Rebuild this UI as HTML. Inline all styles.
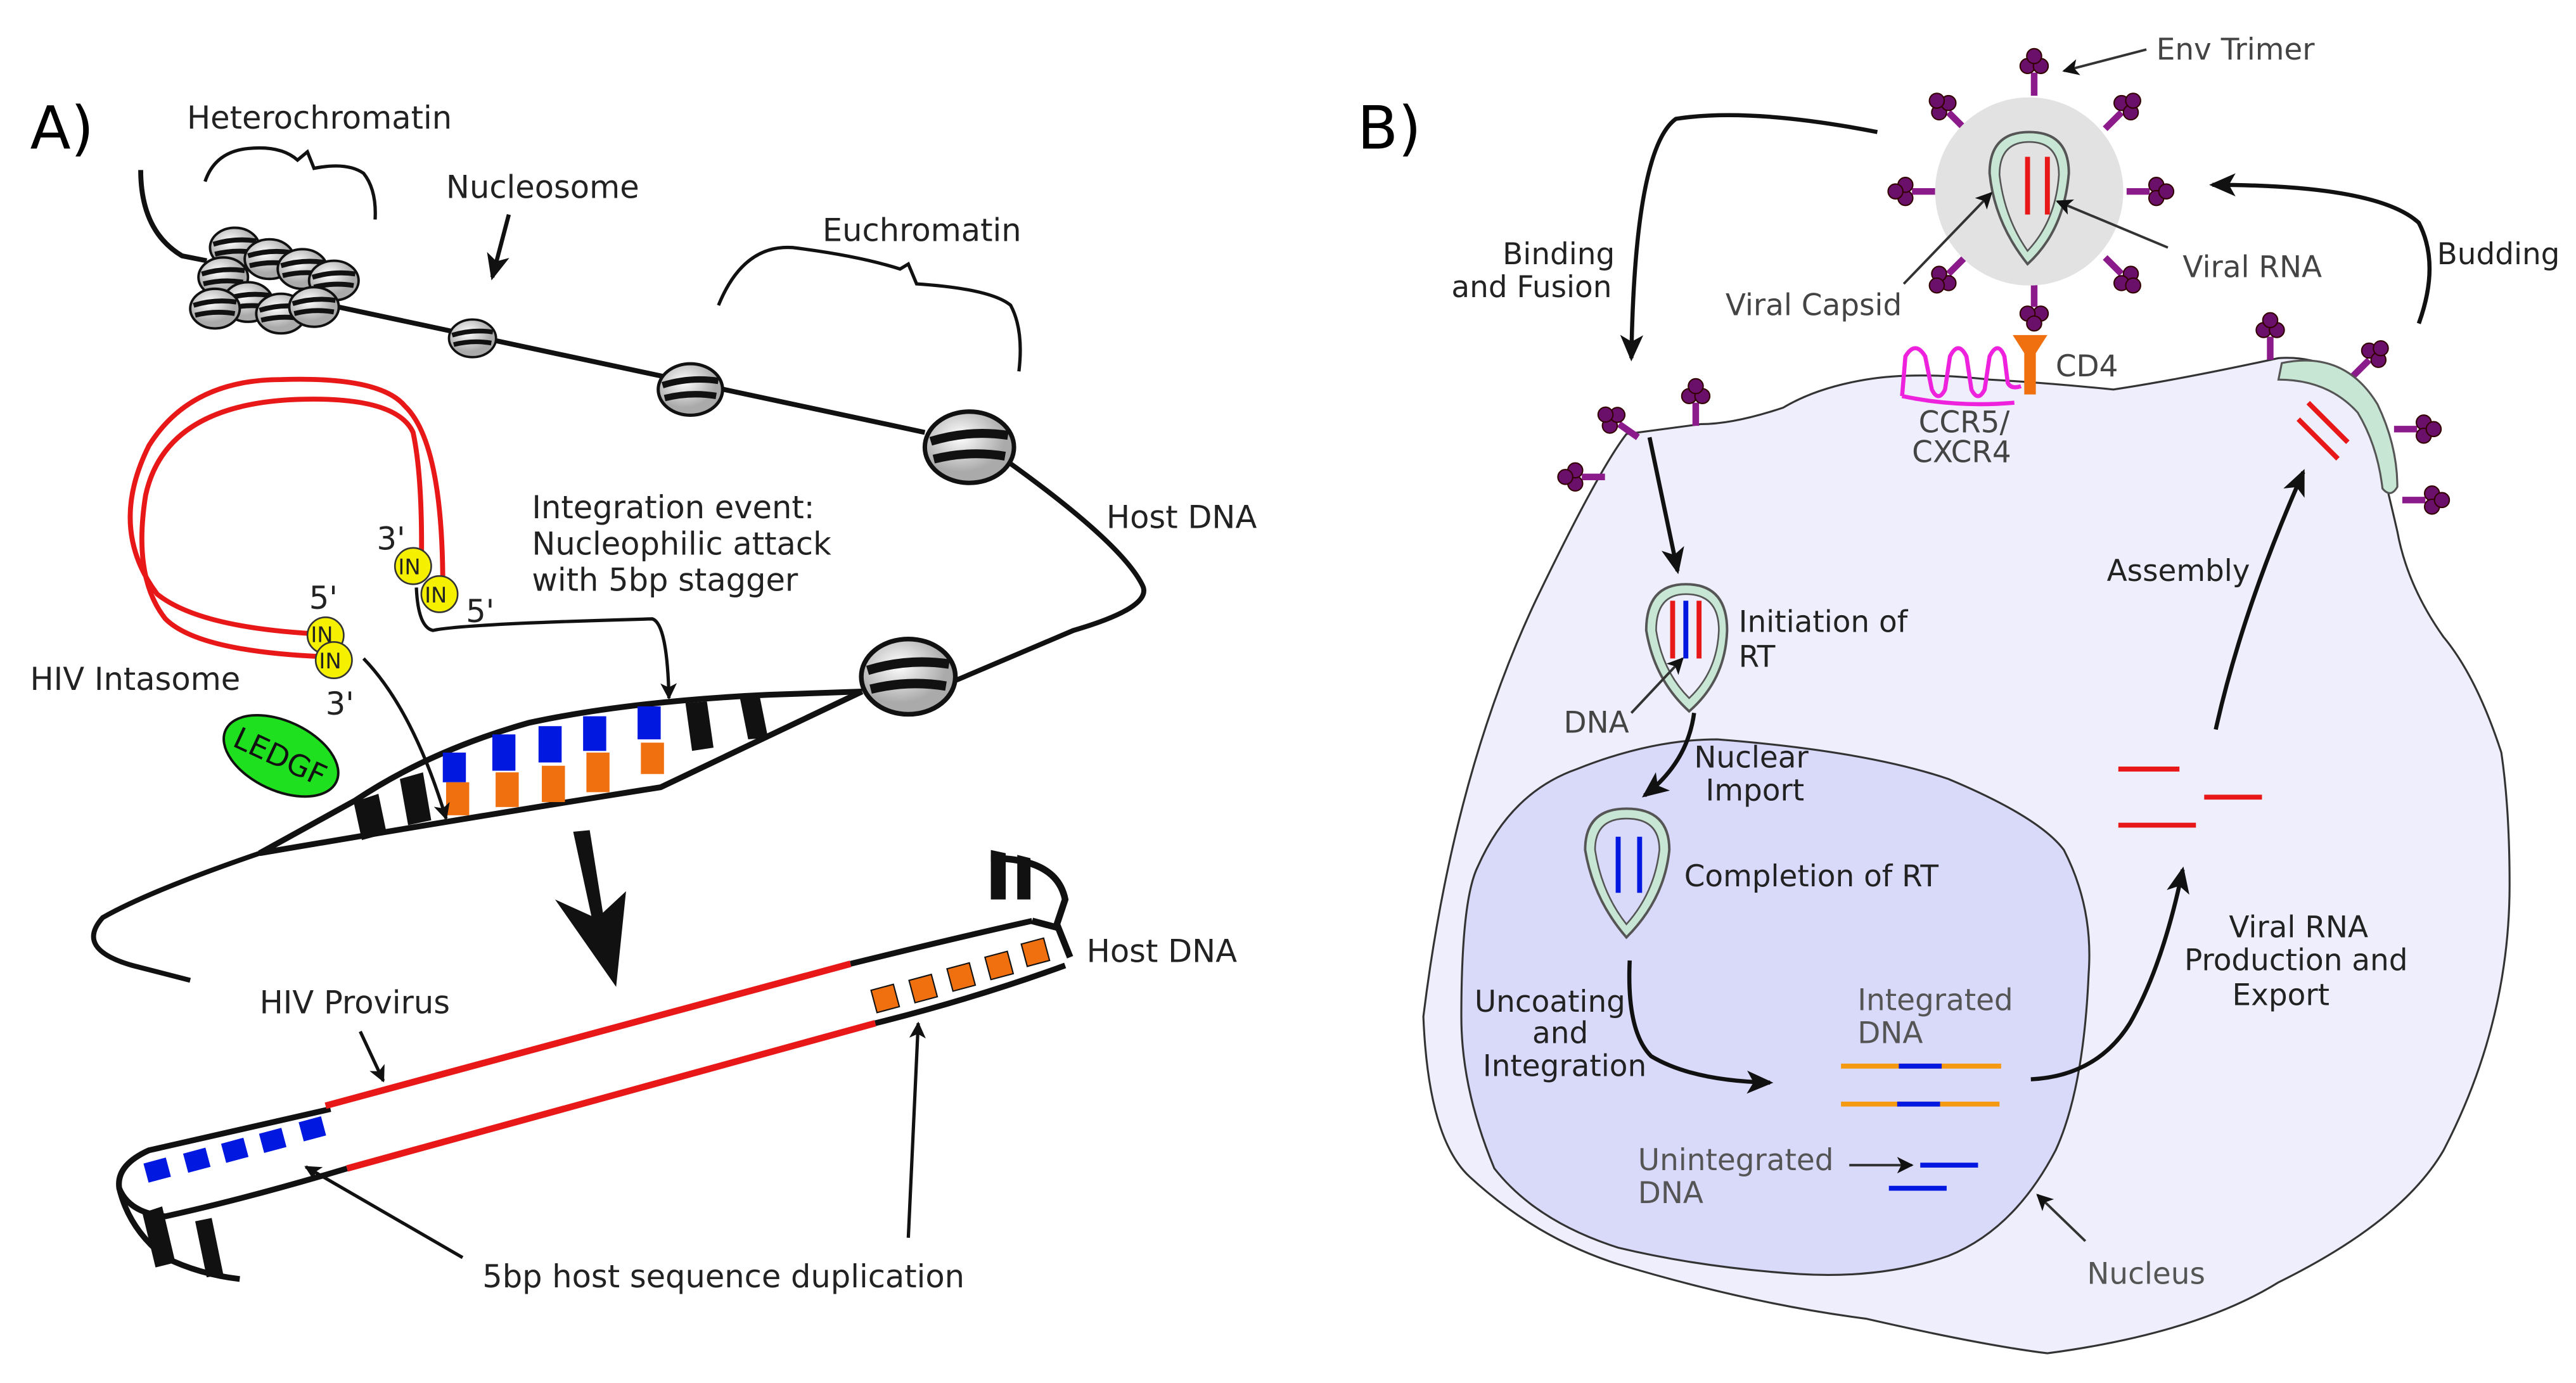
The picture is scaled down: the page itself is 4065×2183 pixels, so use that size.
<!DOCTYPE html>
<html><head><meta charset="utf-8"><style>html,body{margin:0;padding:0;background:#fff}svg{display:block}text{font-family:"DejaVu Sans","Liberation Sans",sans-serif;font-size:19px;fill:#222}</style></head>
<body>
<svg width="4065" height="2183" viewBox="0 0 1560 838" xmlns="http://www.w3.org/2000/svg">
<defs>
<marker id="ah" markerWidth="10" markerHeight="10" refX="9" refY="5" orient="auto" markerUnits="userSpaceOnUse"><path d="M0,0 L10,5 L0,10 L2.5,5z" fill="#111"/></marker>
<marker id="ahb" markerWidth="16" markerHeight="14" refX="14" refY="7" orient="auto" markerUnits="userSpaceOnUse"><path d="M0,0 L16,7 L0,14 L4,7z" fill="#111"/></marker>
<radialGradient id="nuc" cx="40%" cy="35%"><stop offset="0" stop-color="#fff"/><stop offset="1" stop-color="#aaa"/></radialGradient>
<g id="nucl"><ellipse rx="15" ry="12" fill="url(#nuc)" stroke="#111" stroke-width="1.5"/><path d="M-13,-2 Q0,-6 13,-4 M-12,4 Q0,1 12,3" stroke="#111" stroke-width="3" fill="none"/></g>
<g id="env"><line x1="0" y1="0" x2="0" y2="-14" stroke="#8b1a8b" stroke-width="4"/><circle cx="-4" cy="-18" r="4.5" fill="#6a0f6a" stroke="#300" stroke-width="0.8"/><circle cx="4" cy="-18" r="4.5" fill="#6a0f6a" stroke="#300" stroke-width="0.8"/><circle cx="0" cy="-24" r="4.5" fill="#6a0f6a" stroke="#300" stroke-width="0.8"/></g>
</defs>

<!-- PANEL A -->
<text x="18" y="90" style="font-size:36px;fill:#000">A)</text>
<text x="113" y="78">Heterochromatin</text>
<path d="M124,110 Q130,92 150,90 Q170,88 180,97 L186,92 L190,102 Q210,98 220,105 Q228,115 227,133" fill="none" stroke="#111" stroke-width="2"/>
<text x="270" y="120">Nucleosome</text>
<path d="M308,130 L298,168" stroke="#111" stroke-width="2.5" marker-end="url(#ahb)"/>
<text x="498" y="146">Euchromatin</text>
<path d="M435,185 Q450,148 480,150 Q520,155 545,163 L550,160 L555,172 Q600,175 612,185 Q620,200 617,225" fill="none" stroke="#111" stroke-width="2"/>
<text x="670" y="320">Host DNA</text>

<path d="M85,103 Q85,140 110,155 L125,158" fill="none" stroke="#111" stroke-width="3"/>
<path d="M200,185 L560,262 M612,281 Q680,330 692,355 Q698,368 650,382 L577,413" fill="none" stroke="#111" stroke-width="3"/>
<g transform="translate(142,150)"><use href="#nucl"/></g>
<g transform="translate(163,157)"><use href="#nucl"/></g>
<g transform="translate(183,163)"><use href="#nucl"/></g>
<g transform="translate(202,170)"><use href="#nucl"/></g>
<g transform="translate(135,168)"><use href="#nucl"/></g>
<g transform="translate(150,183)"><use href="#nucl"/></g>
<g transform="translate(170,190)"><use href="#nucl"/></g>
<g transform="translate(190,186)"><use href="#nucl"/></g>
<g transform="translate(130,187)"><use href="#nucl"/></g>
<g transform="translate(286,205) scale(0.95)"><use href="#nucl"/></g>
<g transform="translate(418,236) scale(1.3)"><use href="#nucl"/></g>
<g transform="translate(587,271) scale(1.8)"><use href="#nucl"/></g>
<g transform="translate(550,410) scale(1.9)"><use href="#nucl"/></g>

<!-- bubble -->
<path d="M522,419 L465,421 Q380,425 320,438 Q260,455 215,485 L157,517" fill="none" stroke="#111" stroke-width="3.5"/>
<path d="M157,517 Q280,496 400,477 L522,419" fill="none" stroke="#111" stroke-width="3.5"/>
<path d="M157,517 Q90,540 62,556 Q45,575 80,585 L115,594" fill="none" stroke="#111" stroke-width="3"/>
<g stroke="none">
<polygon points="214,486 229,481 234,505 219,509" fill="#111"/>
<polygon points="242,472 256,468 261,497 247,500" fill="#111"/>
<rect x="268" y="456" width="14" height="18" fill="#0018e0"/><rect x="270" y="474" width="14" height="20" fill="#f07010"/>
<rect x="298" y="445" width="14" height="22" fill="#0018e0"/><rect x="300" y="468" width="14" height="21" fill="#f07010"/>
<rect x="326" y="440" width="14" height="22" fill="#0018e0"/><rect x="328" y="464" width="14" height="22" fill="#f07010"/>
<rect x="353" y="434" width="14" height="21" fill="#0018e0"/><rect x="355" y="456" width="14" height="24" fill="#f07010"/>
<rect x="386" y="428" width="14" height="20" fill="#0018e0"/><rect x="388" y="450" width="14" height="19" fill="#f07010"/>
<polygon points="415,426 428,425 432,453 419,455" fill="#111"/>
<polygon points="448,423 460,422 465,447 453,448" fill="#111"/>
</g>
<path d="M347,504 L358,555 L336,545 L373,598 L379,540 L365,553 L357,503z" fill="#111"/>

<!-- intasome -->
<path d="M190,384 Q120,380 95,360 Q65,320 90,270 Q115,230 170,230 Q230,228 245,246 Q268,268 268,355" fill="none" stroke="#e81818" stroke-width="3"/>
<path d="M198,398 Q120,395 100,375 Q80,350 88,300 Q100,245 180,242 Q240,240 250,262 Q256,290 255,345" fill="none" stroke="#e81818" stroke-width="3"/>
<circle cx="197" cy="385" r="11" fill="#f5f000" stroke="#333"/><circle cx="202" cy="400" r="11" fill="#f5f000" stroke="#333"/>
<circle cx="250" cy="343" r="11" fill="#f5f000" stroke="#333"/><circle cx="266" cy="360" r="11" fill="#f5f000" stroke="#333"/>
<text x="188" y="389" style="font-size:13px">IN</text><text x="193" y="405" style="font-size:13px">IN</text>
<text x="241" y="348" style="font-size:13px">IN</text><text x="257" y="365" style="font-size:13px">IN</text>
<text x="228" y="333">3'</text><text x="187" y="369">5'</text><text x="282" y="377">5'</text><text x="197" y="433">3'</text>
<text x="18" y="418">HIV Intasome</text>
<ellipse cx="170" cy="458" rx="37" ry="21" transform="rotate(25 170 458)" fill="#1fe01f" stroke="#111" stroke-width="1.5"/>
<text x="140" y="465" transform="rotate(25 170 458)" style="font-size:18px;fill:#111">LEDGF</text>
<text x="322" y="314">Integration event:</text>
<text x="322" y="336">Nucleophilic attack</text>
<text x="322" y="358">with 5bp stagger</text>
<path d="M252,356 Q253,380 262,382 Q280,378 395,375 Q404,378 405,423" fill="none" stroke="#111" stroke-width="2" marker-end="url(#ah)"/>
<path d="M220,399 Q250,430 270,496" fill="none" stroke="#111" stroke-width="2" marker-end="url(#ah)"/>

<!-- provirus -->
<path d="M200,672 L90,697 Q70,706 72,720 Q78,735 100,737 Q150,726 210,708" fill="none" stroke="#111" stroke-width="3.5"/>
<path d="M197,670 L515,584" stroke="#e81818" stroke-width="4"/>
<path d="M210,708 L530,620" stroke="#e81818" stroke-width="4"/>
<path d="M515,584 Q580,568 625,558 M530,620 Q590,605 645,585" fill="none" stroke="#111" stroke-width="3.5"/>
<path d="M600,520 Q640,520 645,545 L640,560 L648,580 M625,558 L640,562" fill="none" stroke="#111" stroke-width="4"/>
<polygon points="600,515 609,517 609,545 600,545" fill="#111"/><polygon points="616,518 624,520 624,545 616,545" fill="#111"/>
<path d="M72,720 Q78,745 100,762 Q120,772 145,775" fill="none" stroke="#111" stroke-width="3.5"/>
<polygon points="86,735 98,731 106,765 94,768" fill="#111"/><polygon points="118,740 128,738 135,772 125,774" fill="#111"/>
<g fill="#0018e0"><rect x="88" y="703" width="14" height="12" transform="rotate(-15 95 709)"/><rect x="112" y="697" width="14" height="12" transform="rotate(-15 119 703)"/><rect x="135" y="691" width="14" height="12" transform="rotate(-15 142 697)"/><rect x="158" y="685" width="14" height="12" transform="rotate(-15 165 691)"/><rect x="182" y="678" width="14" height="12" transform="rotate(-15 189 684)"/></g>
<g fill="#f07010" stroke="#111" stroke-width="0.8"><rect x="529" y="598" width="14" height="14" transform="rotate(-15 536 605)"/><rect x="552" y="592" width="14" height="14" transform="rotate(-15 559 599)"/><rect x="575" y="585" width="14" height="14" transform="rotate(-15 582 592)"/><rect x="598" y="578" width="14" height="14" transform="rotate(-15 605 585)"/><rect x="620" y="570" width="14" height="14" transform="rotate(-15 627 577)"/></g>
<text x="658" y="583">Host DNA</text>
<text x="157" y="614">HIV Provirus</text>
<path d="M218,625 L232,655" stroke="#111" stroke-width="2" marker-end="url(#ah)"/>
<text x="292" y="780">5bp host sequence duplication</text>
<path d="M280,762 L185,707" stroke="#111" stroke-width="2" marker-end="url(#ah)"/>
<path d="M550,750 L556,620" stroke="#111" stroke-width="2" marker-end="url(#ah)"/>

<!-- PANEL B -->
<text x="822" y="90" style="font-size:36px;fill:#000">B)</text>
<path d="M985,263 Q968,285 930,364 Q880,470 862,616 Q865,690 890,713 Q930,750 980,766 Q1060,790 1130,799 Q1200,815 1240,820 Q1330,808 1380,777 Q1455,740 1480,697 Q1520,620 1520,536 Q1520,490 1515,456 Q1500,410 1480,386 Q1458,355 1452,322 Q1440,270 1430,236 Q1410,215 1380,217 Q1320,230 1280,236 Q1240,232 1205,230 Q1160,225 1130,230 Q1100,235 1080,247 Q1050,257 1030,257 Z" fill="#eeeefc" stroke="#333" stroke-width="1.2"/>
<path d="M885,616 Q885,545 895,525 Q915,480 955,466 Q1000,448 1040,448 Q1130,455 1180,472 Q1235,495 1250,515 Q1268,550 1265,590 Q1262,660 1245,697 Q1220,745 1180,761 Q1140,775 1090,772 Q1030,768 980,756 Q930,740 905,708 Q885,660 885,616 Z" fill="#d9d9fa" stroke="#333" stroke-width="1.2"/>

<!-- virus -->
<g transform="translate(1232,58)"><use href="#env"/></g>
<g transform="translate(1190,78) rotate(-45)"><use href="#env"/></g>
<g transform="translate(1275,78) rotate(45)"><use href="#env"/></g>
<g transform="translate(1172,116) rotate(-90)"><use href="#env"/></g>
<g transform="translate(1288,116) rotate(90)"><use href="#env"/></g>
<g transform="translate(1190,156) rotate(-135)"><use href="#env"/></g>
<g transform="translate(1275,156) rotate(135)"><use href="#env"/></g>
<g transform="translate(1232,172) rotate(180)"><use href="#env"/></g>
<circle cx="1229" cy="116" r="57" fill="#e2e2e2"/>
<path d="M1229,80 Q1205,80 1205,105 Q1208,135 1228,160 Q1250,140 1253,105 Q1253,80 1229,80Z" fill="#c8e6d4" stroke="#555" stroke-width="1.5"/>
<path d="M1229,86 Q1211,86 1211,106 Q1214,132 1228,152 Q1245,134 1247,106 Q1247,86 1229,86Z" fill="#e2e2e2" stroke="#555" stroke-width="1"/>
<line x1="1228" y1="95" x2="1228" y2="130" stroke="#e81818" stroke-width="3"/><line x1="1240" y1="95" x2="1240" y2="130" stroke="#e81818" stroke-width="3"/>
<text x="1306" y="36" style="font-size:18px;fill:#444">Env Trimer</text>
<path d="M1300,30 L1250,43" stroke="#333" stroke-width="1.5" marker-end="url(#ah)"/>
<text x="1045" y="191" style="font-size:18px;fill:#444">Viral Capsid</text>
<path d="M1153,172 L1206,117" stroke="#333" stroke-width="1.5" marker-end="url(#ah)"/>
<text x="1322" y="168" style="font-size:18px;fill:#444">Viral RNA</text>
<path d="M1313,150 L1246,122" stroke="#333" stroke-width="1.5" marker-end="url(#ah)"/>
<!-- CD4, CCR5 -->
<path d="M1219,203 L1240,203 L1233,214 L1233,239 L1226,239 L1226,214Z" fill="#f07010"/>
<path d="M1152,240 L1154,216 Q1160,206 1166,216 L1170,236 Q1174,244 1178,236 L1181,216 Q1186,206 1191,216 L1194,236 Q1198,244 1202,236 L1205,216 Q1210,206 1214,216 L1216,232 Q1218,236 1224,234 M1152,240 Q1185,247 1220,244" fill="none" stroke="#ee22dd" stroke-width="2.5"/>
<text x="1245" y="228" style="font-size:18px;fill:#444">CD4</text>
<text x="1162" y="262" style="font-size:18px;fill:#444">CCR5/</text>
<text x="1158" y="280" style="font-size:18px;fill:#444">CXCR4</text>
<!-- cell surface envs -->
<g transform="translate(992,265) rotate(-55)"><use href="#env"/></g>
<g transform="translate(1027,258)"><use href="#env"/></g>
<g transform="translate(972,289) rotate(-90)"><use href="#env"/></g>
<g transform="translate(1375,218)"><use href="#env"/></g>
<g transform="translate(1425,228) rotate(45)"><use href="#env"/></g>
<g transform="translate(1450,260) rotate(90)"><use href="#env"/></g>
<g transform="translate(1455,303) rotate(90)"><use href="#env"/></g>
<path d="M1382,220 Q1420,212 1440,245 Q1452,270 1452,295 Q1448,302 1443,296 Q1440,270 1428,250 Q1410,230 1380,230 Z" fill="#c8e6d4" stroke="#555" stroke-width="1.2"/>
<line x1="1398" y1="244" x2="1422" y2="268" stroke="#e81818" stroke-width="3"/><line x1="1392" y1="254" x2="1416" y2="278" stroke="#e81818" stroke-width="3"/>
<!-- cycle arrows -->
<path d="M1137,80 Q1060,65 1015,72 Q990,90 988,217" fill="none" stroke="#111" stroke-width="2.5" marker-end="url(#ahb)"/>
<text x="910" y="160" style="font-size:18px">Binding</text>
<text x="879" y="180" style="font-size:18px">and Fusion</text>
<path d="M1465,196 Q1478,160 1465,135 Q1440,112 1340,112" fill="none" stroke="#111" stroke-width="2.5" marker-end="url(#ahb)"/>
<text x="1476" y="160" style="font-size:18px">Budding</text>
<path d="M999,265 L1016,346" fill="none" stroke="#111" stroke-width="2.5" marker-end="url(#ahb)"/>
<!-- Initiation -->
<path d="M1021,354 Q997,354 997,382 Q1002,412 1023,431 Q1045,412 1046,382 Q1046,354 1021,354Z" fill="#c8e6d4" stroke="#555" stroke-width="1.5"/>
<path d="M1021,360 Q1003,360 1003,382 Q1007,407 1023,423 Q1040,407 1041,382 Q1041,360 1021,360Z" fill="#eeeefc" stroke="#555" stroke-width="1"/>
<line x1="1013" y1="364" x2="1013" y2="399" stroke="#e81818" stroke-width="3"/><line x1="1021" y1="364" x2="1021" y2="399" stroke="#0018e0" stroke-width="3"/><line x1="1029" y1="364" x2="1029" y2="399" stroke="#e81818" stroke-width="3"/>
<text x="1053" y="383" style="font-size:18px">Initiation of</text>
<text x="1053" y="404" style="font-size:18px">RT</text>
<text x="947" y="444" style="font-size:18px;fill:#444">DNA</text>
<path d="M988,432 L1019,399" stroke="#333" stroke-width="1.5" marker-end="url(#ah)"/>
<path d="M1026,432 Q1022,462 996,482" fill="none" stroke="#111" stroke-width="2.5" marker-end="url(#ahb)"/>
<text x="1026" y="465" style="font-size:18px">Nuclear</text>
<text x="1033" y="485" style="font-size:18px">Import</text>
<!-- completion -->
<path d="M985,490 Q960,490 960,515 Q965,545 985,568 Q1008,545 1011,515 Q1011,490 985,490Z" fill="#c8e6d4" stroke="#555" stroke-width="1.5"/>
<path d="M985,496 Q966,496 966,515 Q970,541 985,560 Q1002,541 1005,515 Q1005,496 985,496Z" fill="#d9d9fa" stroke="#555" stroke-width="1"/>
<line x1="980" y1="507" x2="980" y2="541" stroke="#0018e0" stroke-width="3"/><line x1="993" y1="507" x2="993" y2="541" stroke="#0018e0" stroke-width="3"/>
<text x="1020" y="537" style="font-size:18px">Completion of RT</text>
<text x="893" y="613" style="font-size:18px">Uncoating</text>
<text x="928" y="632" style="font-size:18px">and</text>
<text x="898" y="652" style="font-size:18px">Integration</text>
<path d="M987,582 Q985,625 1000,640 Q1025,655 1072,656" fill="none" stroke="#111" stroke-width="2.5" marker-end="url(#ahb)"/>
<text x="1125" y="612" style="font-size:18px;fill:#555">Integrated</text>
<text x="1125" y="632" style="font-size:18px;fill:#555">DNA</text>
<line x1="1115" y1="646" x2="1212" y2="646" stroke="#f59a10" stroke-width="3"/><line x1="1150" y1="646" x2="1176" y2="646" stroke="#0018e0" stroke-width="3"/>
<line x1="1115" y1="669" x2="1211" y2="669" stroke="#f59a10" stroke-width="3"/><line x1="1149" y1="669" x2="1175" y2="669" stroke="#0018e0" stroke-width="3"/>
<text x="992" y="709" style="font-size:18px;fill:#555">Unintegrated</text>
<text x="992" y="729" style="font-size:18px;fill:#555">DNA</text>
<path d="M1120,706 L1158,706" stroke="#333" stroke-width="1.5" marker-end="url(#ah)"/>
<line x1="1163" y1="706" x2="1198" y2="706" stroke="#0018e0" stroke-width="3"/><line x1="1144" y1="720" x2="1179" y2="720" stroke="#0018e0" stroke-width="3"/>
<path d="M1263,752 L1234,724" stroke="#333" stroke-width="1.5" marker-end="url(#ah)"/>
<text x="1264" y="778" style="font-size:18px;fill:#555">Nucleus</text>
<path d="M1230,654 Q1270,652 1290,620 Q1310,585 1322,527" fill="none" stroke="#111" stroke-width="2.5" marker-end="url(#ahb)"/>
<text x="1350" y="568" style="font-size:18px">Viral RNA</text>
<text x="1323" y="588" style="font-size:18px">Production and</text>
<text x="1352" y="609" style="font-size:18px">Export</text>
<line x1="1283" y1="466" x2="1320" y2="466" stroke="#e81818" stroke-width="3"/><line x1="1335" y1="483" x2="1370" y2="483" stroke="#e81818" stroke-width="3"/><line x1="1283" y1="500" x2="1330" y2="500" stroke="#e81818" stroke-width="3"/>
<path d="M1342,442 Q1358,370 1395,286" fill="none" stroke="#111" stroke-width="2.5" marker-end="url(#ahb)"/>
<text x="1276" y="352" style="font-size:18px">Assembly</text>
</svg>
</body></html>
